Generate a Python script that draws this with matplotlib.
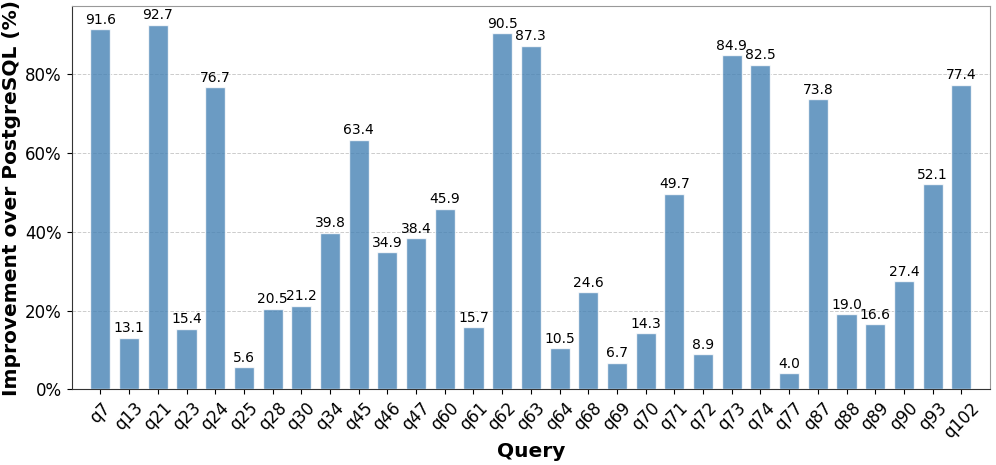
import matplotlib
matplotlib.use("Agg")
import matplotlib.pyplot as plt
from matplotlib.ticker import FuncFormatter

queries = ["q7", "q13", "q21", "q23", "q24", "q25", "q28", "q30", "q34", "q45", "q46",
           "q47", "q60", "q61", "q62", "q63", "q64", "q68", "q69", "q70", "q71", "q72",
           "q73", "q74", "q77", "q87", "q88", "q89", "q90", "q93", "q102"]
improvement = [91.6, 13.1, 92.7, 15.4, 76.7, 5.6, 20.5, 21.2, 39.8, 63.4, 34.9,
               38.4, 45.9, 15.7, 90.5, 87.3, 10.5, 24.6, 6.7, 14.3, 49.7, 8.9,
               84.9, 82.5, 4.0, 73.8, 19.0, 16.6, 27.4, 52.1, 77.4]

fig, ax = plt.subplots(figsize=(9.96, 4.65), dpi=100)
x = list(range(len(queries)))
bars = ax.bar(x, improvement, width=0.7, color="steelblue", alpha=0.8,
              edgecolor="white", linewidth=1.0, zorder=3)
for xi, v in zip(x, improvement):
    ax.text(xi, v + 0.6, f"{v:.1f}", ha="center", va="bottom", fontsize=10, zorder=4)

ax.set_xticks(x)
ax.set_xticklabels(queries, rotation=45, fontsize=12)
ax.tick_params(axis="y", labelsize=12)
ax.yaxis.set_major_formatter(FuncFormatter(lambda v, p: f"{v:.0f}%"))
ax.set_yticks([0, 20, 40, 60, 80])
ax.set_ylim(0, 97.4)
ax.set_xlim(-1.0, 31.0)
ax.set_xlabel("Query", fontsize=14.5, fontweight="bold", labelpad=0)
ax.set_ylabel("Improvement over PostgreSQL (%)", fontsize=14.5, fontweight="bold", labelpad=3)
ax.grid(axis="y", linestyle="--", color="#cccccc", linewidth=0.7, zorder=0)
ax.spines["top"].set_color("#999999")
ax.spines["right"].set_color("#999999")
ax.spines["left"].set_color("#333333")
ax.spines["bottom"].set_color("#333333")

plt.subplots_adjust(left=0.072, right=0.994, top=0.987, bottom=0.163)
fig.savefig("out.png", dpi=100)
